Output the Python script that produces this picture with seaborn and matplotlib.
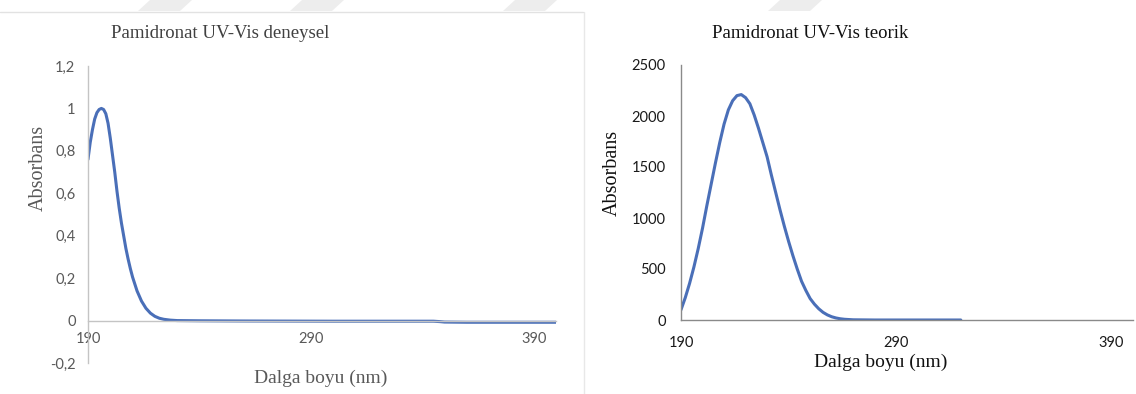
import matplotlib
matplotlib.use("Agg")
import pandas as pd
import seaborn as sns
from matplotlib import pyplot as plt
from matplotlib.lines import Line2D
from matplotlib.patches import Polygon

wl_exp = [190, 191, 192, 193, 194, 195, 196, 197, 198, 199, 200, 201, 202, 203,
          204, 205, 206, 207, 208, 209, 210, 212, 214, 216, 218, 220, 222, 224,
          227, 230, 240, 260, 300, 345, 348, 350, 360, 380, 400]
abs_exp = [0.76, 0.84, 0.90, 0.95, 0.98, 0.995, 1.0, 0.995, 0.975, 0.93, 0.86,
           0.78, 0.70, 0.61, 0.53, 0.46, 0.40, 0.34, 0.29, 0.245, 0.205, 0.14,
           0.092, 0.058, 0.035, 0.02, 0.011, 0.006, 0.002, 0.0, -0.001, -0.002,
           -0.003, -0.003, -0.005, -0.007, -0.008, -0.008, -0.008]

# theoretical spectrum
wl_theo = [190, 192, 194, 196, 198, 200, 202, 204, 206, 208, 210, 212, 214, 216,
           218, 220, 222, 224, 226, 228, 230, 232, 234, 236, 238, 240, 242, 244,
           246, 248, 250, 252, 254, 256, 258, 260, 262, 264, 266, 270, 280, 300, 320]
abs_theo = [100, 220, 360, 520, 700, 900, 1120, 1330, 1540, 1740, 1920, 2060,
            2150, 2200, 2210, 2180, 2120, 2010, 1880, 1740, 1600, 1420, 1250,
            1080, 920, 770, 630, 500, 380, 290, 210, 155, 110, 75, 50, 32, 20,
            12, 7, 2, 0, 0, 0]

x_ticks = [190, 290, 390]
exp_yticks = [-0.2, 0, 0.2, 0.4, 0.6, 0.8, 1.0, 1.2]
exp_ytick_labels = ["-0,2", "0", "0,2", "0,4", "0,6", "0,8", "1", "1,2"]
theo_yticks = [0, 500, 1000, 1500, 2000, 2500]

line_color = "#4a6fb8"
serif = ["Liberation Serif", "DejaVu Serif"]
sans = "Lato"

sns.set_theme(style="white")
plt.rcParams["font.family"] = serif

fig = plt.figure(figsize=(11.36, 3.94), dpi=100)
W, H = 1136, 394

# faint watermark stripes along the top edge
for x0 in [150, 302, 515, 780]:
    stripe = Polygon([(x0 / W, 1.0), ((x0 + 42) / W, 1.0),
                      ((x0 + 30) / W, 1 - 11 / H), ((x0 - 12) / W, 1 - 11 / H)],
                     closed=True, transform=fig.transFigure,
                     facecolor="#ededed", edgecolor="none")
    fig.add_artist(stripe)

# ---- left: experimental ----
ax1 = fig.add_axes([88 / W, 31 / H, 468 / W, 297 / H])
exp_df = pd.DataFrame({"wl": wl_exp, "abs": abs_exp})
sns.lineplot(data=exp_df, x="wl", y="abs", ax=ax1, color=line_color, linewidth=2.2)
ax1.set_xlim(190, 400)
ax1.set_ylim(-0.2, 1.2)
ax1.set_xticks(x_ticks)
ax1.set_yticks(exp_yticks)
ax1.set_yticklabels(exp_ytick_labels)
for side in ["top", "right"]:
    ax1.spines[side].set_visible(False)
ax1.spines["bottom"].set_position(("data", 0))
for side in ["left", "bottom"]:
    ax1.spines[side].set_color("#c4c4c4")
    ax1.spines[side].set_linewidth(1.0)
ax1.tick_params(axis="both", length=0, labelsize=10.5, labelcolor="#595959",
                labelfontfamily=sans)
ax1.tick_params(axis="x", pad=8.5)
ax1.tick_params(axis="y", pad=9)

ax1.set_title("Pamidronat UV-Vis deneysel", x=0.282, y=1.111, va="center",
              pad=0, fontsize=13.5, color="#404040")
ax1.set_xlabel("Dalga boyu (nm)", fontsize=14, color="#595959")
ax1.xaxis.set_label_coords(0.498, -0.0505)
ax1.xaxis.label.set_va("center")
ax1.set_ylabel("Absorbans", fontsize=14.5, color="#595959")
ax1.yaxis.set_label_coords(-0.107, 0.657)
ax1.yaxis.label.set_va("center")

# ---- right: theoretical ----
ax2 = fig.add_axes([681 / W, 74 / H, 452 / W, 255 / H])
theo_df = pd.DataFrame({"wl": wl_theo, "abs": abs_theo})
sns.lineplot(data=theo_df, x="wl", y="abs", ax=ax2, color=line_color, linewidth=2.2)
ax2.set_xlim(190, 400)
ax2.set_ylim(0, 2500)
ax2.set_xticks(x_ticks)
ax2.set_yticks(theo_yticks)
for side in ["top", "right"]:
    ax2.spines[side].set_visible(False)
for side in ["left", "bottom"]:
    ax2.spines[side].set_color("#8a8a8a")
    ax2.spines[side].set_linewidth(1.0)
ax2.tick_params(axis="both", direction="out", length=4.5, width=1.0, color="#8a8a8a",
                labelsize=10.5, labelcolor="#1a1a1a", labelfontfamily=sans)
ax2.tick_params(axis="x", pad=7)
ax2.tick_params(axis="y", pad=6.5)

ax2.set_title("Pamidronat UV-Vis teorik", x=0.285, y=1.125, va="center",
              pad=0, fontsize=13.5, color="#111111")
ax2.set_xlabel("Dalga boyu (nm)", fontsize=14, color="#111111")
ax2.xaxis.set_label_coords(0.4425, -0.165)
ax2.xaxis.label.set_va("center")
ax2.set_ylabel("Absorbans", fontsize=14.5, color="#111111")
ax2.yaxis.set_label_coords(-0.153, 0.576)
ax2.yaxis.label.set_va("center")

# faint page frame around the left chart
fig.add_artist(Line2D([0, 583 / W], [1 - 12 / H, 1 - 12 / H],
                      transform=fig.transFigure, color="#e2e2e2", linewidth=1))
fig.add_artist(Line2D([584 / W, 584 / W], [0, 1 - 12 / H],
                      transform=fig.transFigure, color="#e8e8e8", linewidth=1))

fig.savefig("out.png", dpi=100, facecolor="white")
